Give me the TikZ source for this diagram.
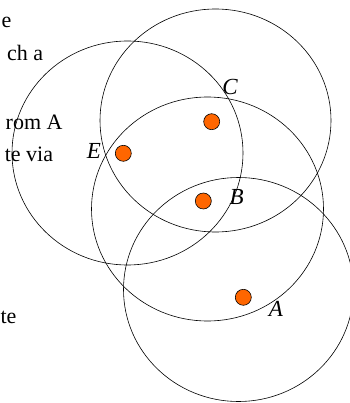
\documentclass[tikz,border=0pt]{standalone}
\usepackage{fontspec}
\setmainfont{Liberation Serif}
\definecolor{dotorange}{HTML}{FF6600}
\begin{document}
\begin{tikzpicture}[x=1pt,y=-1pt,
  every node/.style={inner sep=0pt},
  ring/.style={line width=0.6pt},
  frag/.style={anchor=base east,font=\fontsize{22}{22}\selectfont},
  lbl/.style={font=\fontsize{23}{23}\selectfont\itshape},
  dot/.style={circle,draw,line width=0.6pt,fill=dotorange,minimum size=16pt}]
  \useasboundingbox (0,0) rectangle (349,403);
  % range circles
  \draw[ring] (127.5,153) ellipse [x radius=115.5pt,y radius=112pt];
  \draw[ring] (215.5,120.5) ellipse [x radius=115.5pt,y radius=111.5pt];
  \draw[ring] (207.5,209) ellipse [x radius=116pt,y radius=112pt];
  \draw[ring] (238.5,289.5) ellipse [x radius=115pt,y radius=112pt];
  % stations
  \node[dot] (dotC) at (211.7,121.7) {};
  \node[dot] (dotE) at (123.3,153.3) {};
  \node[dot] (dotB) at (203.3,201) {};
  \node[dot] (dotA) at (243.3,297.3) {};
  \node[lbl] (labC) at (230,86.7) {C};
  \node[lbl] (labE) at (94,150.8) {E};
  \node[lbl] (labB) at (236.7,197.5) {B};
  \node[lbl] (labA) at (275.8,309) {A};
  % cut-off text on the left
  \node[frag] (frag1) at (11.7,28) {e};
  \node[frag] (frag2) at (43.3,61) {ch a};
  \node[frag] (frag3) at (62.7,130) {rom A};
  \node[frag] (frag4) at (53.3,161.7) {te via};
  \node[frag] (frag5) at (16.7,323) {te};
\end{tikzpicture}
\end{document}
